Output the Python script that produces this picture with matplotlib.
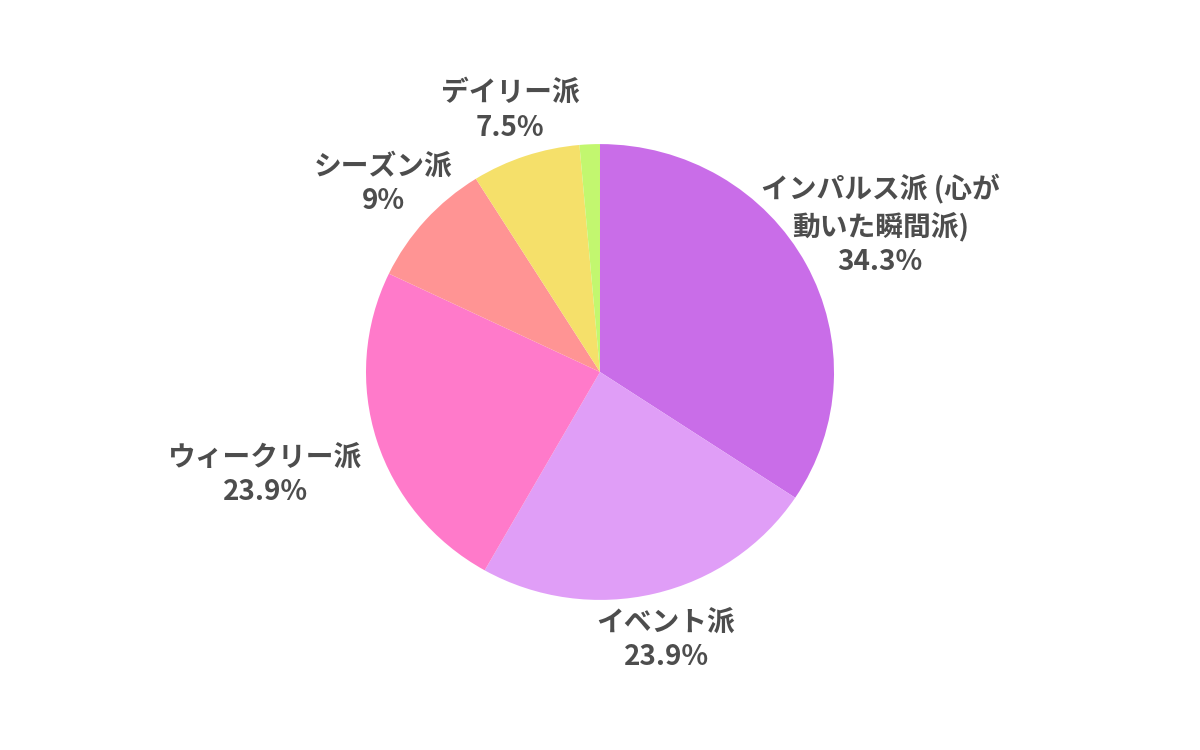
import numpy as np
import matplotlib
matplotlib.use("Agg")
import matplotlib.pyplot as plt

plt.rcParams['font.family'] = ['Noto Sans CJK JP', 'DejaVu Sans']

# Share of each type (percent), clockwise from 12 o'clock
categories = ["インパルス派 (心が\n動いた瞬間派)", "イベント派", "ウィークリー派",
              "シーズン派", "デイリー派", "その他"]
shares = [34.3, 23.9, 23.9, 9.0, 7.5, 1.4]
show_label = [True, True, True, True, True, False]
colors = ["#C96DE8", "#E09EF7", "#FF7ACA", "#FF9494", "#F5E06A", "#C2F76F"]

# Radial placement of each label (multiples of the pie radius)
label_dist = [1.36, 1.21, 1.50, 1.24, 1.21, 1.2]

fig = plt.figure(figsize=(12, 7.5), dpi=100)
ax = fig.add_axes([0, 0, 1, 1])

R = 234
yscale = 0.974  # vertical squash of the disc
wedges, _ = ax.pie(shares, colors=colors, startangle=90, counterclock=False,
                   radius=R, center=(0, 0), wedgeprops=dict(linewidth=0))
ax.set_aspect('auto')
ax.set_xlim(-600, 600)
ax.set_ylim(-378 / yscale, 372 / yscale)
ax.axis('off')

for w, cat, val, show, d in zip(wedges, categories, shares, show_label, label_dist):
    if not show:
        continue
    ang = np.deg2rad((w.theta1 + w.theta2) / 2)
    x, y = d * R * np.cos(ang), d * R * np.sin(ang)
    txt = f"{cat}\n{val:g}%"
    ax.text(x, y, txt, ha='center', va='center', fontsize=20,
            fontweight='bold', color='#4D4D4D', linespacing=1.3)

fig.savefig("out.png", dpi=100, facecolor='white')
